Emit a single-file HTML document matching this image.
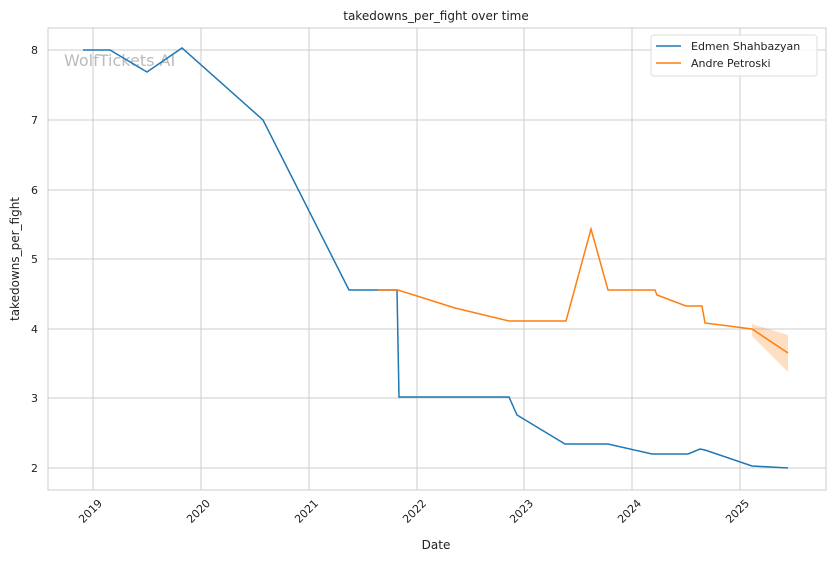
<!DOCTYPE html>
<html><head><style>body{margin:0;background:#fff}svg{font-family:"DejaVu Sans","Liberation Sans",sans-serif}</style></head><body>
<svg width="832" height="561" xmlns="http://www.w3.org/2000/svg">
<rect x="48" y="28" width="778" height="462" fill="#fff" stroke="#ccc" stroke-width="1"/>
<g stroke="#ccc" stroke-width="1">
<line x1="93" y1="28" x2="93" y2="490"/><line x1="201" y1="28" x2="201" y2="490"/><line x1="309" y1="28" x2="309" y2="490"/><line x1="417" y1="28" x2="417" y2="490"/><line x1="524" y1="28" x2="524" y2="490"/><line x1="632" y1="28" x2="632" y2="490"/><line x1="740" y1="28" x2="740" y2="490"/>
<line x1="48" y1="50" x2="826" y2="50"/><line x1="48" y1="120" x2="826" y2="120"/><line x1="48" y1="190" x2="826" y2="190"/><line x1="48" y1="259" x2="826" y2="259"/><line x1="48" y1="329" x2="826" y2="329"/><line x1="48" y1="398" x2="826" y2="398"/><line x1="48" y1="468" x2="826" y2="468"/>
</g>
<g font-size="11" fill="#222" text-anchor="end">
<text x="38" y="54">8</text><text x="38" y="124">7</text><text x="38" y="194">6</text><text x="38" y="263">5</text><text x="38" y="333">4</text><text x="38" y="402">3</text><text x="38" y="472">2</text>
</g>
<g font-size="11" fill="#222" text-anchor="end">
<text transform="translate(103,504) rotate(-45)">2019</text>
<text transform="translate(211,504) rotate(-45)">2020</text>
<text transform="translate(319,504) rotate(-45)">2021</text>
<text transform="translate(427,504) rotate(-45)">2022</text>
<text transform="translate(534,504) rotate(-45)">2023</text>
<text transform="translate(642,504) rotate(-45)">2024</text>
<text transform="translate(750,504) rotate(-45)">2025</text>
</g>
<text x="436" y="549" font-size="12" fill="#222" text-anchor="middle">Date</text>
<text transform="translate(19,259) rotate(-90)" font-size="12" fill="#222" text-anchor="middle">takedowns_per_fight</text>
<text x="436" y="20" font-size="12" fill="#222" text-anchor="middle">takedowns_per_fight over time</text>
<text x="64" y="66" font-size="16" fill="#bbb">WolfTickets AI</text>
<polygon points="752,324 788,335 788,372 752,336" fill="#ff7f0e" fill-opacity="0.25"/>
<polyline fill="none" stroke="#1f77b4" stroke-width="1.5" points="83,50 110,50 147,72 182,48 263,120 349,290 397,290 399,397 509,397 517,415 565,444 608,444 652,454 688,454 700,449 705,450 752,466 788,468"/>
<polyline fill="none" stroke="#ff7f0e" stroke-width="1.5" points="378,290 398,290 455,308 509,321 566,321 591,229 608,290 655,290 657,295 686,306 702,306 705,323 752,329 788,353"/>
<rect x="651" y="35" width="166" height="41" rx="3" fill="#fff" fill-opacity="0.85" stroke="#ddd"/>
<line x1="656" y1="46" x2="681" y2="46" stroke="#1f77b4" stroke-width="1.5"/>
<line x1="656" y1="63" x2="681" y2="63" stroke="#ff7f0e" stroke-width="1.5"/>
<text x="691" y="50" font-size="11" fill="#222">Edmen Shahbazyan</text>
<text x="691" y="67" font-size="11" fill="#222">Andre Petroski</text>
</svg>
</body></html>
